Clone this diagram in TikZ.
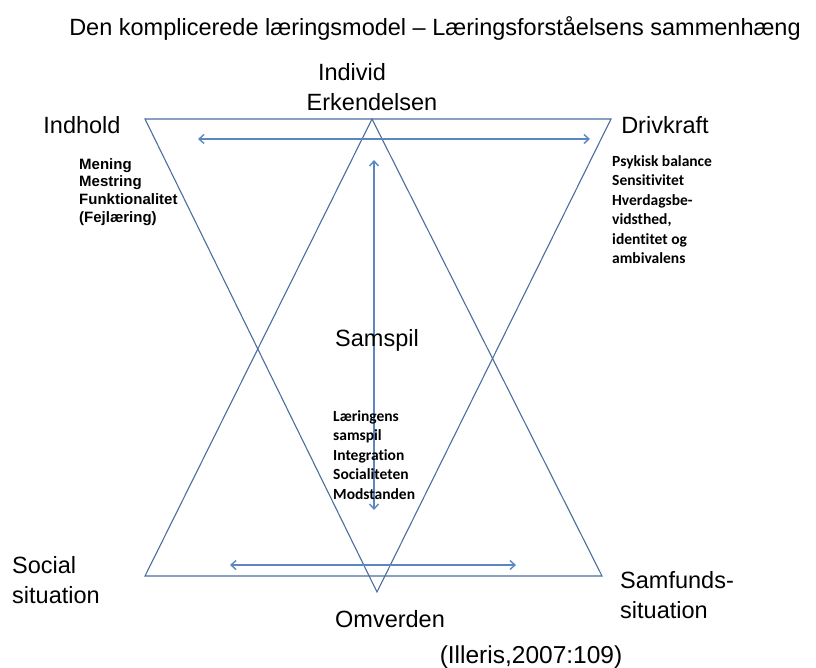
\documentclass[tikz,border=0pt]{standalone}
\usepackage{fontspec}
\setmainfont{Liberation Sans}
\newfontfamily\listfont[Ligatures=NoCommon]{Carlito}
\usetikzlibrary{arrows.meta, positioning}
\definecolor{triblue}{HTML}{4A6E9E}
\definecolor{arrowblue}{HTML}{5B87C0}

\begin{document}
\begin{tikzpicture}[
        x=1pt, y=-1pt,
        tri/.style={draw=triblue, line width=1.1pt, line join=miter},
        arrow/.style={{Straight Barb[length=5pt,width=9pt]}-{Straight Barb[length=5pt,width=9pt]}, draw=arrowblue, line width=1.4pt},
        label/.style={font=\fontsize{23.5}{30}\selectfont, inner sep=0pt, align=left},
        title/.style={font=\fontsize{23.5}{28}\selectfont, inner sep=0pt},
        list/.style={font=\listfont\bfseries\fontsize{15.5}{19.5}\selectfont, inner sep=0pt, align=left, anchor=north west},
        arial list/.style={list, font=\bfseries\fontsize{15}{17.7}\selectfont}
    ]
        \useasboundingbox (0,0) rectangle (816,668);
        \coordinate (DL) at (145,119);
        \coordinate (DR) at (611,119);
        \coordinate (DB) at (377,592);
        \coordinate (UL) at (145,576);
        \coordinate (UR) at (602,576);
        \coordinate (UT) at (372,119);
        \draw[tri] (DL) -- (DR) -- (DB) -- cycle;
        \draw[tri] (UL) -- (UR) -- (UT) -- cycle;
        \coordinate (TopA) at (198,139);
        \coordinate (TopB) at (590,139);
        \coordinate (MidA) at (374,160);
        \coordinate (MidB) at (374,510);
        \coordinate (BotA) at (230,565);
        \coordinate (BotB) at (516,565);
        \draw[arrow] (TopA) -- (TopB);
        \draw[arrow] (MidA) -- (MidB);
        \draw[arrow] (BotA) -- (BotB);
        \node[title] (Title) at (435,28) {Den komplicerede læringsmodel – Læringsforståelsens sammenhæng};
        \node[label] (Individ) at (352,72) {Individ};
        \node[label] (Erkend) at (372,102) {Erkendelsen};
        \node[label] (Indhold) at (82,125) {Indhold};
        \node[label] (Drivkraft) at (665,125) {Drivkraft};
        \node[label] (Samspil) at (377,340) {Samspil};
        \node[label, anchor=west] (Social) at (12,580) {Social\\situation};
        \node[label, anchor=west] (Samfund) at (620,595) {Samfunds-\\situation};
        \node[label] (Omverden) at (390,619) {Omverden};
        \node[label, font=\fontsize{24.5}{28}\selectfont] (Kilde) at (531,657) {(Illeris,2007:109)};
        \node[arial list] (IndholdList) at (79,158) {Mening\\Mestring\\Funktionalitet\\(Fejlæring)};
        \node[list] (DrivList) at (612,155) {Psykisk balance\\Sensitivitet\\Hverdagsbe-\\vidsthed,\\identitet og\\ambivalens};
        \node[list] (SamspilList) at (333,410) {Læringens\\samspil\\Integration\\Socialiteten\\Modstanden};
    \end{tikzpicture}
\end{document}
